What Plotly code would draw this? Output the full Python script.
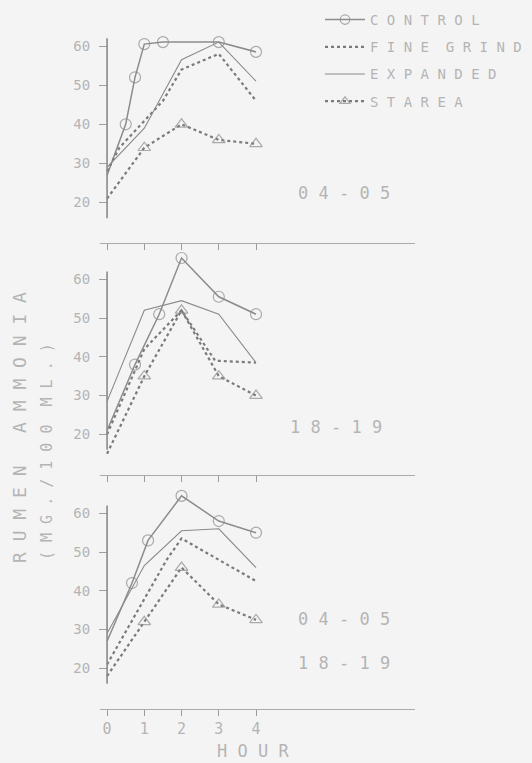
import plotly.graph_objects as go

# ---------------- data ----------------
hours_ticks = [0, 1, 2, 3, 4]
y_ticks = [20, 30, 40, 50, 60]

series_names = ["C O N T R O L", "F I N E  G R I N D", "E X P A N D E D", "S T A R E A"]
panel_labels = ["0 4 - 0 5", "1 8 - 1 9", "0 4 - 0 5<br><br>1 8 - 1 9"]

# Panel 1 : 04-05
p1_control_x = [0, 0.5, 0.75, 1, 1.5, 3, 4]
p1_control_y = [27, 40, 52, 60.5, 61, 61, 58.5]
p1_fine_x = [0, 0.33, 1.5, 2, 3, 4]
p1_fine_y = [28, 34, 46, 54, 58, 46]
p1_expanded_x = [0, 1, 2, 3, 4]
p1_expanded_y = [29, 39, 56.5, 61, 51]
p1_starea_x = [0, 1, 2, 3, 4]
p1_starea_y = [21, 34, 40, 36, 35]

# Panel 2 : 18-19
p2_control_x = [0, 0.75, 1.4, 2, 3, 4]
p2_control_y = [21, 38, 51, 65.5, 55.5, 51]
p2_fine_x = [0, 1, 2, 2.9, 4]
p2_fine_y = [20, 42, 52, 39, 38.5]
p2_expanded_x = [0, 1, 2, 3, 4]
p2_expanded_y = [28.5, 52, 54.5, 51, 38.5]
p2_starea_x = [0, 1, 2, 3, 4]
p2_starea_y = [15, 35, 52, 35, 30]

# Panel 3 : 04-05 and 18-19
p3_control_x = [0, 0.67, 1.1, 2, 3, 4]
p3_control_y = [27, 42, 53, 64.5, 58, 55]
p3_fine_x = [0, 1, 1.6, 2, 4]
p3_fine_y = [21, 38, 48, 53.5, 42.5]
p3_expanded_x = [0, 1, 2, 3, 4]
p3_expanded_y = [29, 46.5, 55.5, 56, 46]
p3_starea_x = [0, 1, 2, 3, 4]
p3_starea_y = [18, 32, 46, 36.5, 32.5]

panels = [
    [(p1_control_x, p1_control_y), (p1_fine_x, p1_fine_y), (p1_expanded_x, p1_expanded_y), (p1_starea_x, p1_starea_y)],
    [(p2_control_x, p2_control_y), (p2_fine_x, p2_fine_y), (p2_expanded_x, p2_expanded_y), (p2_starea_x, p2_starea_y)],
    [(p3_control_x, p3_control_y), (p3_fine_x, p3_fine_y), (p3_expanded_x, p3_expanded_y), (p3_starea_x, p3_starea_y)],
]

# ---------------- styling ----------------
W, H = 532, 763
BG = "#f4f4f4"
TXT = "#b4b4b4"
MONO = "DejaVu Sans Mono"

def px_x(p):
    return p / W

def px_y(p):
    return 1 - p / H

# panel geometry in pixels: (top_px, bottom_px, y_range)
panel_geo = [
    (34.3, 243.2, [9.6, 63.0]),
    (252.2, 475.0, [9.5, 67.0]),
    (488.1, 709.0, [9.5, 66.5]),
]
x_dom = [px_x(100), px_x(415)]
x_rng = [-0.19, 8.27]

line_styles = [
    dict(color="#8c8c8c", width=1.5, dash="solid"),
    dict(color="#7a7a7a", width=2.2, dash="dot"),
    dict(color="#8a8a8a", width=1.1, dash="solid"),
    dict(color="#7a7a7a", width=2.2, dash="dot"),
]
marker_symbols = ["circle-open", None, None, "triangle-up-open"]

fig = go.Figure()

for i, panel in enumerate(panels):
    xa = "x" if i == 0 else f"x{i+1}"
    ya = "y" if i == 0 else f"y{i+1}"
    for k, (xs, ys) in enumerate(panel):
        sym = marker_symbols[k]
        if sym:
            sizes = [0] + [11] * (len(xs) - 1)
            mode = "lines+markers"
            marker = dict(symbol=sym, size=sizes, color="#8a8a8a",
                          line=dict(width=1.2, color="#8a8a8a"))
        else:
            mode = "lines"
            marker = None
        fig.add_trace(go.Scatter(
            x=xs, y=ys, mode=mode, name=series_names[k],
            line=line_styles[k], marker=marker,
            xaxis=xa, yaxis=ya,
            legendgroup=series_names[k], showlegend=(i == 0),
            cliponaxis=False, hoverinfo="skip",
        ))

layout = dict(
    width=W, height=H,
    margin=dict(l=0, r=0, t=0, b=0),
    paper_bgcolor=BG, plot_bgcolor=BG,
    font=dict(family=MONO, color=TXT, size=14),
    showlegend=True,
    legend=dict(x=px_x(320), y=px_y(4), xanchor="left", yanchor="top",
                bgcolor="rgba(0,0,0,0)", font=dict(family=MONO, size=14, color=TXT),
                itemwidth=40, tracegroupgap=6),
)

shapes = []
annotations = []
for i, (top, bot, rng) in enumerate(panel_geo):
    n = "" if i == 0 else str(i + 1)
    layout[f"xaxis{n}"] = dict(
        domain=x_dom, range=x_rng, anchor=f"y{n}",
        showline=True, linecolor="#ababab", linewidth=1,
        ticks="outside", ticklen=6, tickcolor="#9a9a9a", tickwidth=1,
        tickvals=hours_ticks, showticklabels=(i == 2),
        tickfont=dict(family=MONO, size=15, color=TXT),
        showgrid=False, zeroline=False, fixedrange=True,
    )
    layout[f"yaxis{n}"] = dict(
        domain=[px_y(bot), px_y(top)], range=rng,
        anchor="free", position=px_x(107),
        showline=False, ticks="outside", ticklen=8, tickcolor="#a0a0a0",
        tickvals=y_ticks, ticklabelstandoff=6,
        tickfont=dict(family=MONO, size=14, color=TXT),
        showgrid=False, zeroline=False, fixedrange=True,
    )
    shapes.append(dict(type="line", xref=f"x{n}", yref=f"y{n}",
                       x0=0, x1=0, y0=16, y1=62,
                       line=dict(color="#8a8a8a", width=1.6)))

label_pos = [(344, 193), (336, 427), (344, 641)]
for (cx, cy), txt in zip(label_pos, panel_labels):
    annotations.append(dict(xref="paper", yref="paper", x=px_x(cx), y=px_y(cy),
                            xanchor="center", yanchor="middle",
                            text=txt, showarrow=False,
                            font=dict(family=MONO, size=17, color=TXT)))

annotations.append(dict(xref="paper", yref="paper", x=px_x(253), y=px_y(751),
                        xanchor="center", yanchor="middle",
                        text="H O U R", showarrow=False,
                        font=dict(family=MONO, size=17, color=TXT)))
annotations.append(dict(xref="paper", yref="paper", x=px_x(19), y=px_y(428),
                        xanchor="center", yanchor="middle",
                        text="R U M E N   A M M O N I A", textangle=-90, showarrow=False,
                        font=dict(family=MONO, size=18, color=TXT)))
annotations.append(dict(xref="paper", yref="paper", x=px_x(47), y=px_y(452),
                        xanchor="center", yanchor="middle",
                        text="( M G . / 1 0 0  M L . )", textangle=-90, showarrow=False,
                        font=dict(family=MONO, size=15, color=TXT)))

layout["shapes"] = shapes
layout["annotations"] = annotations
fig.update_layout(**layout)

fig.write_html("out.html", config={"displayModeBar": False},
               post_script="document.body.style.margin='0px';")
